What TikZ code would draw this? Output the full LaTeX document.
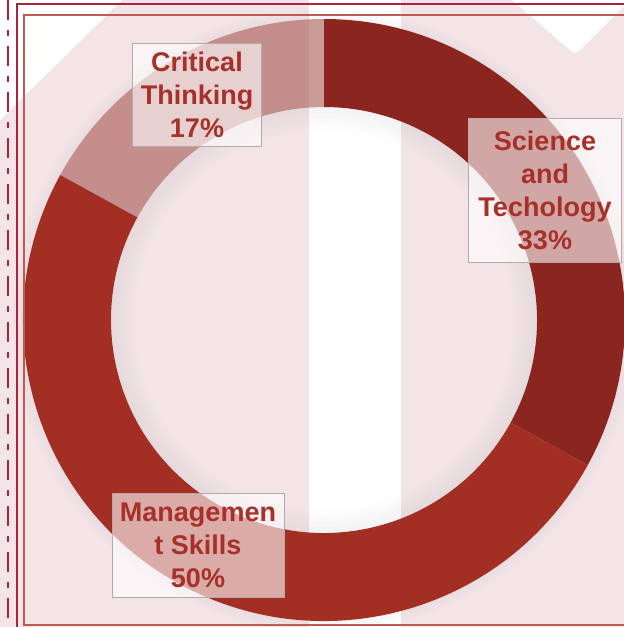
\documentclass[tikz,border=0pt]{standalone}
\usepackage{fontspec}
\setmainfont{Liberation Sans}
\definecolor{bgpink}{HTML}{F2E4E7}
\definecolor{scired}{HTML}{8B2520}
\definecolor{mgmtred}{HTML}{A32E23}
\definecolor{critred}{RGB}{150,58,49}
\definecolor{crimson}{HTML}{A8243F}
\definecolor{framered}{HTML}{C05A55}
\definecolor{boxgray}{HTML}{B8A8A8}
\definecolor{textred}{HTML}{A8302A}
\begin{document}
\begin{tikzpicture}[x=1pt,y=-1pt]
  \tikzstyle{every node}=[align=center,inner sep=0pt]
  \tikzstyle{lbl}=[draw=boxgray,line width=1pt,fill=white,fill opacity=0.6,text opacity=1,text=textred,font=\bfseries\fontsize{27}{33}\selectfont]
  \tikzstyle{shade}=[black!70,line width=1.5pt]

  \useasboundingbox (0,0) rectangle (624,627);
  \fill[bgpink] (0,0) rectangle (624,627);
  \fill[white] (0,0) -- (122,0) -- (0,120) -- cycle;
  \fill[white] (309,0) rectangle (401,627);
  \fill[white] (512,0) -- (570,50) .. controls (575,54) .. (580,50) -- (630,0) -- cycle;

  \coordinate (c) at (324,320);

  \foreach \i in {1,...,8}
    \draw[shade,opacity=0.045-\i*0.005] (c) circle[radius=300pt+\i*1.5pt];

  \foreach \a/\b/\col/\op in {90/-28.8/scired/1, -28.8/-208.8/mgmtred/1, 151.2/90/critred/0.5}
    \fill[\col,opacity=\op] (c) ++(\a:301pt) arc[start angle=\a,end angle=\b,radius=301pt]
      -- ++(\b:-88pt) arc[start angle=\b,end angle=\a,radius=213pt] -- cycle;

  \foreach \i in {1,...,16}
    \draw[shade,opacity=0.068-\i*0.004] (c) circle[radius=214pt-\i*1.5pt];

  \draw[crimson,line width=1.5pt,dash pattern=on 20pt off 10pt on 6pt off 10pt] (8,0) -- (8,627);
  \draw[crimson,line width=2pt] (17,627) -- (17,4) -- (624,4);
  \draw[framered,line width=1.2pt] (630,15) -- (24,15) -- (24,625) -- (630,625);

  \node[lbl,minimum width=129pt,minimum height=103pt] (crit) at (197,95) {Critical\\Thinking\\17\%};
  \node[lbl,minimum width=153pt,minimum height=144pt] (sci) at (545,190) {Science\\and\\Techology\\33\%};
  \node[lbl,minimum width=172pt,minimum height=104pt] (mgmt) at (198,545) {Managemen\\t Skills\\50\%};
\end{tikzpicture}
\end{document}
